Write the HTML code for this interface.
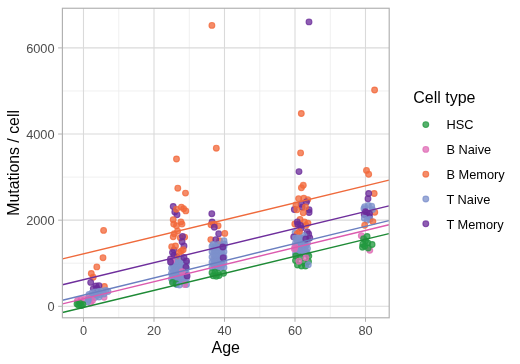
<!DOCTYPE html>
<html><head><meta charset="utf-8"><style>
html,body{margin:0;padding:0;background:#fff;width:520px;height:364px;overflow:hidden}
svg{display:block}
text{font-family:"Liberation Sans",sans-serif}
.ax{font-size:12.8px;fill:#4d4d4d}
.tt{font-size:16px;fill:#000}
.lg{font-size:12.8px;fill:#000}
</style></head><body>
<svg width="520" height="364" viewBox="0 0 520 364">
<rect x="0" y="0" width="520" height="364" fill="#fff"/>
<line x1="118.75" y1="8.3" x2="118.75" y2="317.7" stroke="#ececec" stroke-width="0.8"/>
<line x1="189.25" y1="8.3" x2="189.25" y2="317.7" stroke="#ececec" stroke-width="0.8"/>
<line x1="259.75" y1="8.3" x2="259.75" y2="317.7" stroke="#ececec" stroke-width="0.8"/>
<line x1="330.25" y1="8.3" x2="330.25" y2="317.7" stroke="#ececec" stroke-width="0.8"/>
<line x1="62.5" y1="263.23" x2="389.0" y2="263.23" stroke="#ececec" stroke-width="0.8"/>
<line x1="62.5" y1="177.10" x2="389.0" y2="177.10" stroke="#ececec" stroke-width="0.8"/>
<line x1="62.5" y1="90.97" x2="389.0" y2="90.97" stroke="#ececec" stroke-width="0.8"/>
<line x1="83.50" y1="8.3" x2="83.50" y2="317.7" stroke="#dadada" stroke-width="1.1"/>
<line x1="154.00" y1="8.3" x2="154.00" y2="317.7" stroke="#dadada" stroke-width="1.1"/>
<line x1="224.50" y1="8.3" x2="224.50" y2="317.7" stroke="#dadada" stroke-width="1.1"/>
<line x1="295.00" y1="8.3" x2="295.00" y2="317.7" stroke="#dadada" stroke-width="1.1"/>
<line x1="365.50" y1="8.3" x2="365.50" y2="317.7" stroke="#dadada" stroke-width="1.1"/>
<line x1="62.5" y1="306.30" x2="389.0" y2="306.30" stroke="#dadada" stroke-width="1.1"/>
<line x1="62.5" y1="220.17" x2="389.0" y2="220.17" stroke="#dadada" stroke-width="1.1"/>
<line x1="62.5" y1="134.03" x2="389.0" y2="134.03" stroke="#dadada" stroke-width="1.1"/>
<line x1="62.5" y1="47.90" x2="389.0" y2="47.90" stroke="#dadada" stroke-width="1.1"/>
<circle cx="103.6" cy="230.4" r="2.9" fill="#f2683a" fill-opacity="0.76" stroke="#f2683a" stroke-opacity="0.76" stroke-width="1.1"/>
<circle cx="103.0" cy="257.7" r="2.9" fill="#f2683a" fill-opacity="0.76" stroke="#f2683a" stroke-opacity="0.76" stroke-width="1.1"/>
<circle cx="96.8" cy="266.9" r="2.9" fill="#f2683a" fill-opacity="0.76" stroke="#f2683a" stroke-opacity="0.76" stroke-width="1.1"/>
<circle cx="91.3" cy="273.5" r="2.9" fill="#f2683a" fill-opacity="0.76" stroke="#f2683a" stroke-opacity="0.76" stroke-width="1.1"/>
<circle cx="93.2" cy="277.3" r="2.9" fill="#f2683a" fill-opacity="0.76" stroke="#f2683a" stroke-opacity="0.76" stroke-width="1.1"/>
<circle cx="104.4" cy="286.5" r="2.9" fill="#f2683a" fill-opacity="0.76" stroke="#f2683a" stroke-opacity="0.76" stroke-width="1.1"/>
<circle cx="90.7" cy="282.4" r="2.9" fill="#6a2c9a" fill-opacity="0.76" stroke="#6a2c9a" stroke-opacity="0.76" stroke-width="1.1"/>
<circle cx="96.0" cy="286.0" r="2.9" fill="#6a2c9a" fill-opacity="0.76" stroke="#6a2c9a" stroke-opacity="0.76" stroke-width="1.1"/>
<circle cx="99.0" cy="285.6" r="2.9" fill="#6a2c9a" fill-opacity="0.76" stroke="#6a2c9a" stroke-opacity="0.76" stroke-width="1.1"/>
<circle cx="93.3" cy="288.6" r="2.9" fill="#6a2c9a" fill-opacity="0.76" stroke="#6a2c9a" stroke-opacity="0.76" stroke-width="1.1"/>
<circle cx="97.0" cy="288.5" r="2.9" fill="#6a2c9a" fill-opacity="0.76" stroke="#6a2c9a" stroke-opacity="0.76" stroke-width="1.1"/>
<circle cx="104.1" cy="297.3" r="2.9" fill="#e06cb6" fill-opacity="0.76" stroke="#e06cb6" stroke-opacity="0.76" stroke-width="1.1"/>
<circle cx="91.4" cy="297.5" r="2.9" fill="#e06cb6" fill-opacity="0.76" stroke="#e06cb6" stroke-opacity="0.76" stroke-width="1.1"/>
<circle cx="89.0" cy="294.5" r="2.9" fill="#7d91cc" fill-opacity="0.76" stroke="#7d91cc" stroke-opacity="0.76" stroke-width="1.1"/>
<circle cx="92.0" cy="293.0" r="2.9" fill="#7d91cc" fill-opacity="0.76" stroke="#7d91cc" stroke-opacity="0.76" stroke-width="1.1"/>
<circle cx="95.5" cy="292.0" r="2.9" fill="#7d91cc" fill-opacity="0.76" stroke="#7d91cc" stroke-opacity="0.76" stroke-width="1.1"/>
<circle cx="99.0" cy="291.5" r="2.9" fill="#7d91cc" fill-opacity="0.76" stroke="#7d91cc" stroke-opacity="0.76" stroke-width="1.1"/>
<circle cx="102.5" cy="291.0" r="2.9" fill="#7d91cc" fill-opacity="0.76" stroke="#7d91cc" stroke-opacity="0.76" stroke-width="1.1"/>
<circle cx="106.0" cy="290.5" r="2.9" fill="#7d91cc" fill-opacity="0.76" stroke="#7d91cc" stroke-opacity="0.76" stroke-width="1.1"/>
<circle cx="108.0" cy="291.5" r="2.9" fill="#7d91cc" fill-opacity="0.76" stroke="#7d91cc" stroke-opacity="0.76" stroke-width="1.1"/>
<circle cx="93.0" cy="295.5" r="2.9" fill="#7d91cc" fill-opacity="0.76" stroke="#7d91cc" stroke-opacity="0.76" stroke-width="1.1"/>
<circle cx="97.0" cy="295.5" r="2.9" fill="#7d91cc" fill-opacity="0.76" stroke="#7d91cc" stroke-opacity="0.76" stroke-width="1.1"/>
<circle cx="100.5" cy="294.5" r="2.9" fill="#7d91cc" fill-opacity="0.76" stroke="#7d91cc" stroke-opacity="0.76" stroke-width="1.1"/>
<circle cx="104.0" cy="294.0" r="2.9" fill="#7d91cc" fill-opacity="0.76" stroke="#7d91cc" stroke-opacity="0.76" stroke-width="1.1"/>
<circle cx="95.0" cy="297.5" r="2.9" fill="#7d91cc" fill-opacity="0.76" stroke="#7d91cc" stroke-opacity="0.76" stroke-width="1.1"/>
<circle cx="99.0" cy="297.0" r="2.9" fill="#7d91cc" fill-opacity="0.76" stroke="#7d91cc" stroke-opacity="0.76" stroke-width="1.1"/>
<circle cx="77.5" cy="300.5" r="2.9" fill="#e06cb6" fill-opacity="0.76" stroke="#e06cb6" stroke-opacity="0.76" stroke-width="1.1"/>
<circle cx="81.0" cy="299.5" r="2.9" fill="#e06cb6" fill-opacity="0.76" stroke="#e06cb6" stroke-opacity="0.76" stroke-width="1.1"/>
<circle cx="84.5" cy="299.5" r="2.9" fill="#e06cb6" fill-opacity="0.76" stroke="#e06cb6" stroke-opacity="0.76" stroke-width="1.1"/>
<circle cx="88.0" cy="298.5" r="2.9" fill="#e06cb6" fill-opacity="0.76" stroke="#e06cb6" stroke-opacity="0.76" stroke-width="1.1"/>
<circle cx="92.5" cy="300.5" r="2.9" fill="#e06cb6" fill-opacity="0.76" stroke="#e06cb6" stroke-opacity="0.76" stroke-width="1.1"/>
<circle cx="90.5" cy="303.0" r="2.9" fill="#e06cb6" fill-opacity="0.76" stroke="#e06cb6" stroke-opacity="0.76" stroke-width="1.1"/>
<circle cx="87.7" cy="301.7" r="2.9" fill="#7d91cc" fill-opacity="0.76" stroke="#7d91cc" stroke-opacity="0.76" stroke-width="1.1"/>
<circle cx="88.5" cy="299.8" r="2.9" fill="#7d91cc" fill-opacity="0.76" stroke="#7d91cc" stroke-opacity="0.76" stroke-width="1.1"/>
<circle cx="77.0" cy="304.0" r="2.9" fill="#22983f" fill-opacity="0.76" stroke="#22983f" stroke-opacity="0.76" stroke-width="1.1"/>
<circle cx="80.0" cy="303.5" r="2.9" fill="#22983f" fill-opacity="0.76" stroke="#22983f" stroke-opacity="0.76" stroke-width="1.1"/>
<circle cx="83.0" cy="304.5" r="2.9" fill="#22983f" fill-opacity="0.76" stroke="#22983f" stroke-opacity="0.76" stroke-width="1.1"/>
<circle cx="78.5" cy="305.0" r="2.9" fill="#22983f" fill-opacity="0.76" stroke="#22983f" stroke-opacity="0.76" stroke-width="1.1"/>
<circle cx="81.5" cy="305.5" r="2.9" fill="#22983f" fill-opacity="0.76" stroke="#22983f" stroke-opacity="0.76" stroke-width="1.1"/>
<circle cx="176.5" cy="159.0" r="2.9" fill="#f2683a" fill-opacity="0.76" stroke="#f2683a" stroke-opacity="0.76" stroke-width="1.1"/>
<circle cx="177.8" cy="188.2" r="2.9" fill="#f2683a" fill-opacity="0.76" stroke="#f2683a" stroke-opacity="0.76" stroke-width="1.1"/>
<circle cx="185.5" cy="193.1" r="2.9" fill="#f2683a" fill-opacity="0.76" stroke="#f2683a" stroke-opacity="0.76" stroke-width="1.1"/>
<circle cx="173.2" cy="206.5" r="2.9" fill="#6a2c9a" fill-opacity="0.76" stroke="#6a2c9a" stroke-opacity="0.76" stroke-width="1.1"/>
<circle cx="174.8" cy="212.0" r="2.9" fill="#6a2c9a" fill-opacity="0.76" stroke="#6a2c9a" stroke-opacity="0.76" stroke-width="1.1"/>
<circle cx="177.0" cy="214.8" r="2.9" fill="#6a2c9a" fill-opacity="0.76" stroke="#6a2c9a" stroke-opacity="0.76" stroke-width="1.1"/>
<circle cx="176.5" cy="209.3" r="2.9" fill="#f2683a" fill-opacity="0.76" stroke="#f2683a" stroke-opacity="0.76" stroke-width="1.1"/>
<circle cx="181.4" cy="207.1" r="2.9" fill="#f2683a" fill-opacity="0.76" stroke="#f2683a" stroke-opacity="0.76" stroke-width="1.1"/>
<circle cx="183.6" cy="208.7" r="2.9" fill="#f2683a" fill-opacity="0.76" stroke="#f2683a" stroke-opacity="0.76" stroke-width="1.1"/>
<circle cx="185.8" cy="210.9" r="2.9" fill="#f2683a" fill-opacity="0.76" stroke="#f2683a" stroke-opacity="0.76" stroke-width="1.1"/>
<circle cx="173.2" cy="219.7" r="2.9" fill="#f2683a" fill-opacity="0.76" stroke="#f2683a" stroke-opacity="0.76" stroke-width="1.1"/>
<circle cx="173.7" cy="224.1" r="2.9" fill="#f2683a" fill-opacity="0.76" stroke="#f2683a" stroke-opacity="0.76" stroke-width="1.1"/>
<circle cx="180.9" cy="221.9" r="2.9" fill="#f2683a" fill-opacity="0.76" stroke="#f2683a" stroke-opacity="0.76" stroke-width="1.1"/>
<circle cx="176.5" cy="225.8" r="2.9" fill="#f2683a" fill-opacity="0.76" stroke="#f2683a" stroke-opacity="0.76" stroke-width="1.1"/>
<circle cx="182.0" cy="224.1" r="2.9" fill="#f2683a" fill-opacity="0.76" stroke="#f2683a" stroke-opacity="0.76" stroke-width="1.1"/>
<circle cx="174.3" cy="233.8" r="2.9" fill="#f2683a" fill-opacity="0.76" stroke="#f2683a" stroke-opacity="0.76" stroke-width="1.1"/>
<circle cx="177.6" cy="231.1" r="2.9" fill="#f2683a" fill-opacity="0.76" stroke="#f2683a" stroke-opacity="0.76" stroke-width="1.1"/>
<circle cx="180.3" cy="237.7" r="2.9" fill="#f2683a" fill-opacity="0.76" stroke="#f2683a" stroke-opacity="0.76" stroke-width="1.1"/>
<circle cx="184.7" cy="237.1" r="2.9" fill="#f2683a" fill-opacity="0.76" stroke="#f2683a" stroke-opacity="0.76" stroke-width="1.1"/>
<circle cx="173.2" cy="236.8" r="2.9" fill="#f2683a" fill-opacity="0.76" stroke="#f2683a" stroke-opacity="0.76" stroke-width="1.1"/>
<circle cx="182.5" cy="236.4" r="2.9" fill="#6a2c9a" fill-opacity="0.76" stroke="#6a2c9a" stroke-opacity="0.76" stroke-width="1.1"/>
<circle cx="182.1" cy="241.8" r="2.9" fill="#6a2c9a" fill-opacity="0.76" stroke="#6a2c9a" stroke-opacity="0.76" stroke-width="1.1"/>
<circle cx="184.0" cy="246.0" r="2.9" fill="#6a2c9a" fill-opacity="0.76" stroke="#6a2c9a" stroke-opacity="0.76" stroke-width="1.1"/>
<circle cx="174.0" cy="250.0" r="2.9" fill="#6a2c9a" fill-opacity="0.76" stroke="#6a2c9a" stroke-opacity="0.76" stroke-width="1.1"/>
<circle cx="171.7" cy="246.8" r="2.9" fill="#f2683a" fill-opacity="0.76" stroke="#f2683a" stroke-opacity="0.76" stroke-width="1.1"/>
<circle cx="175.5" cy="246.0" r="2.9" fill="#f2683a" fill-opacity="0.76" stroke="#f2683a" stroke-opacity="0.76" stroke-width="1.1"/>
<circle cx="172.5" cy="252.5" r="2.9" fill="#6a2c9a" fill-opacity="0.76" stroke="#6a2c9a" stroke-opacity="0.76" stroke-width="1.1"/>
<circle cx="174.0" cy="255.5" r="2.9" fill="#6a2c9a" fill-opacity="0.76" stroke="#6a2c9a" stroke-opacity="0.76" stroke-width="1.1"/>
<circle cx="176.7" cy="256.5" r="2.9" fill="#6a2c9a" fill-opacity="0.76" stroke="#6a2c9a" stroke-opacity="0.76" stroke-width="1.1"/>
<circle cx="170.5" cy="259.0" r="2.9" fill="#6a2c9a" fill-opacity="0.76" stroke="#6a2c9a" stroke-opacity="0.76" stroke-width="1.1"/>
<circle cx="173.5" cy="262.0" r="2.9" fill="#6a2c9a" fill-opacity="0.76" stroke="#6a2c9a" stroke-opacity="0.76" stroke-width="1.1"/>
<circle cx="181.3" cy="251.0" r="2.9" fill="#f2683a" fill-opacity="0.76" stroke="#f2683a" stroke-opacity="0.76" stroke-width="1.1"/>
<circle cx="179.4" cy="252.5" r="2.9" fill="#f2683a" fill-opacity="0.76" stroke="#f2683a" stroke-opacity="0.76" stroke-width="1.1"/>
<circle cx="183.2" cy="249.8" r="2.9" fill="#f2683a" fill-opacity="0.76" stroke="#f2683a" stroke-opacity="0.76" stroke-width="1.1"/>
<circle cx="177.8" cy="258.5" r="2.9" fill="#f2683a" fill-opacity="0.76" stroke="#f2683a" stroke-opacity="0.76" stroke-width="1.1"/>
<circle cx="171.5" cy="263.0" r="2.9" fill="#7d91cc" fill-opacity="0.76" stroke="#7d91cc" stroke-opacity="0.76" stroke-width="1.1"/>
<circle cx="174.5" cy="263.0" r="2.9" fill="#7d91cc" fill-opacity="0.76" stroke="#7d91cc" stroke-opacity="0.76" stroke-width="1.1"/>
<circle cx="177.5" cy="263.0" r="2.9" fill="#7d91cc" fill-opacity="0.76" stroke="#7d91cc" stroke-opacity="0.76" stroke-width="1.1"/>
<circle cx="180.5" cy="263.0" r="2.9" fill="#7d91cc" fill-opacity="0.76" stroke="#7d91cc" stroke-opacity="0.76" stroke-width="1.1"/>
<circle cx="183.5" cy="263.0" r="2.9" fill="#7d91cc" fill-opacity="0.76" stroke="#7d91cc" stroke-opacity="0.76" stroke-width="1.1"/>
<circle cx="186.5" cy="263.0" r="2.9" fill="#7d91cc" fill-opacity="0.76" stroke="#7d91cc" stroke-opacity="0.76" stroke-width="1.1"/>
<circle cx="173.0" cy="265.6" r="2.9" fill="#7d91cc" fill-opacity="0.76" stroke="#7d91cc" stroke-opacity="0.76" stroke-width="1.1"/>
<circle cx="176.0" cy="265.6" r="2.9" fill="#7d91cc" fill-opacity="0.76" stroke="#7d91cc" stroke-opacity="0.76" stroke-width="1.1"/>
<circle cx="179.0" cy="265.6" r="2.9" fill="#7d91cc" fill-opacity="0.76" stroke="#7d91cc" stroke-opacity="0.76" stroke-width="1.1"/>
<circle cx="182.0" cy="265.6" r="2.9" fill="#7d91cc" fill-opacity="0.76" stroke="#7d91cc" stroke-opacity="0.76" stroke-width="1.1"/>
<circle cx="185.0" cy="265.6" r="2.9" fill="#7d91cc" fill-opacity="0.76" stroke="#7d91cc" stroke-opacity="0.76" stroke-width="1.1"/>
<circle cx="171.5" cy="268.2" r="2.9" fill="#7d91cc" fill-opacity="0.76" stroke="#7d91cc" stroke-opacity="0.76" stroke-width="1.1"/>
<circle cx="174.5" cy="268.2" r="2.9" fill="#7d91cc" fill-opacity="0.76" stroke="#7d91cc" stroke-opacity="0.76" stroke-width="1.1"/>
<circle cx="177.5" cy="268.2" r="2.9" fill="#7d91cc" fill-opacity="0.76" stroke="#7d91cc" stroke-opacity="0.76" stroke-width="1.1"/>
<circle cx="180.5" cy="268.2" r="2.9" fill="#7d91cc" fill-opacity="0.76" stroke="#7d91cc" stroke-opacity="0.76" stroke-width="1.1"/>
<circle cx="183.5" cy="268.2" r="2.9" fill="#7d91cc" fill-opacity="0.76" stroke="#7d91cc" stroke-opacity="0.76" stroke-width="1.1"/>
<circle cx="186.5" cy="268.2" r="2.9" fill="#7d91cc" fill-opacity="0.76" stroke="#7d91cc" stroke-opacity="0.76" stroke-width="1.1"/>
<circle cx="173.0" cy="270.8" r="2.9" fill="#7d91cc" fill-opacity="0.76" stroke="#7d91cc" stroke-opacity="0.76" stroke-width="1.1"/>
<circle cx="176.0" cy="270.8" r="2.9" fill="#7d91cc" fill-opacity="0.76" stroke="#7d91cc" stroke-opacity="0.76" stroke-width="1.1"/>
<circle cx="179.0" cy="270.8" r="2.9" fill="#7d91cc" fill-opacity="0.76" stroke="#7d91cc" stroke-opacity="0.76" stroke-width="1.1"/>
<circle cx="182.0" cy="270.8" r="2.9" fill="#7d91cc" fill-opacity="0.76" stroke="#7d91cc" stroke-opacity="0.76" stroke-width="1.1"/>
<circle cx="185.0" cy="270.8" r="2.9" fill="#7d91cc" fill-opacity="0.76" stroke="#7d91cc" stroke-opacity="0.76" stroke-width="1.1"/>
<circle cx="171.5" cy="273.4" r="2.9" fill="#7d91cc" fill-opacity="0.76" stroke="#7d91cc" stroke-opacity="0.76" stroke-width="1.1"/>
<circle cx="174.5" cy="273.4" r="2.9" fill="#7d91cc" fill-opacity="0.76" stroke="#7d91cc" stroke-opacity="0.76" stroke-width="1.1"/>
<circle cx="177.5" cy="273.4" r="2.9" fill="#7d91cc" fill-opacity="0.76" stroke="#7d91cc" stroke-opacity="0.76" stroke-width="1.1"/>
<circle cx="180.5" cy="273.4" r="2.9" fill="#7d91cc" fill-opacity="0.76" stroke="#7d91cc" stroke-opacity="0.76" stroke-width="1.1"/>
<circle cx="183.5" cy="273.4" r="2.9" fill="#7d91cc" fill-opacity="0.76" stroke="#7d91cc" stroke-opacity="0.76" stroke-width="1.1"/>
<circle cx="186.5" cy="273.4" r="2.9" fill="#7d91cc" fill-opacity="0.76" stroke="#7d91cc" stroke-opacity="0.76" stroke-width="1.1"/>
<circle cx="173.0" cy="276.1" r="2.9" fill="#7d91cc" fill-opacity="0.76" stroke="#7d91cc" stroke-opacity="0.76" stroke-width="1.1"/>
<circle cx="176.0" cy="276.1" r="2.9" fill="#7d91cc" fill-opacity="0.76" stroke="#7d91cc" stroke-opacity="0.76" stroke-width="1.1"/>
<circle cx="179.0" cy="276.1" r="2.9" fill="#7d91cc" fill-opacity="0.76" stroke="#7d91cc" stroke-opacity="0.76" stroke-width="1.1"/>
<circle cx="182.0" cy="276.1" r="2.9" fill="#7d91cc" fill-opacity="0.76" stroke="#7d91cc" stroke-opacity="0.76" stroke-width="1.1"/>
<circle cx="185.0" cy="276.1" r="2.9" fill="#7d91cc" fill-opacity="0.76" stroke="#7d91cc" stroke-opacity="0.76" stroke-width="1.1"/>
<circle cx="171.5" cy="278.7" r="2.9" fill="#7d91cc" fill-opacity="0.76" stroke="#7d91cc" stroke-opacity="0.76" stroke-width="1.1"/>
<circle cx="174.5" cy="278.7" r="2.9" fill="#7d91cc" fill-opacity="0.76" stroke="#7d91cc" stroke-opacity="0.76" stroke-width="1.1"/>
<circle cx="177.5" cy="278.7" r="2.9" fill="#7d91cc" fill-opacity="0.76" stroke="#7d91cc" stroke-opacity="0.76" stroke-width="1.1"/>
<circle cx="180.5" cy="278.7" r="2.9" fill="#7d91cc" fill-opacity="0.76" stroke="#7d91cc" stroke-opacity="0.76" stroke-width="1.1"/>
<circle cx="183.5" cy="278.7" r="2.9" fill="#7d91cc" fill-opacity="0.76" stroke="#7d91cc" stroke-opacity="0.76" stroke-width="1.1"/>
<circle cx="186.5" cy="278.7" r="2.9" fill="#7d91cc" fill-opacity="0.76" stroke="#7d91cc" stroke-opacity="0.76" stroke-width="1.1"/>
<circle cx="173.0" cy="281.3" r="2.9" fill="#7d91cc" fill-opacity="0.76" stroke="#7d91cc" stroke-opacity="0.76" stroke-width="1.1"/>
<circle cx="176.0" cy="281.3" r="2.9" fill="#7d91cc" fill-opacity="0.76" stroke="#7d91cc" stroke-opacity="0.76" stroke-width="1.1"/>
<circle cx="179.0" cy="281.3" r="2.9" fill="#7d91cc" fill-opacity="0.76" stroke="#7d91cc" stroke-opacity="0.76" stroke-width="1.1"/>
<circle cx="182.0" cy="281.3" r="2.9" fill="#7d91cc" fill-opacity="0.76" stroke="#7d91cc" stroke-opacity="0.76" stroke-width="1.1"/>
<circle cx="185.0" cy="281.3" r="2.9" fill="#7d91cc" fill-opacity="0.76" stroke="#7d91cc" stroke-opacity="0.76" stroke-width="1.1"/>
<circle cx="176.6" cy="284.6" r="2.9" fill="#7d91cc" fill-opacity="0.76" stroke="#7d91cc" stroke-opacity="0.76" stroke-width="1.1"/>
<circle cx="186.5" cy="284.6" r="2.9" fill="#7d91cc" fill-opacity="0.76" stroke="#7d91cc" stroke-opacity="0.76" stroke-width="1.1"/>
<circle cx="175.5" cy="261.4" r="2.9" fill="#7d91cc" fill-opacity="0.76" stroke="#7d91cc" stroke-opacity="0.76" stroke-width="1.1"/>
<circle cx="181.7" cy="259.0" r="2.9" fill="#7d91cc" fill-opacity="0.76" stroke="#7d91cc" stroke-opacity="0.76" stroke-width="1.1"/>
<circle cx="171.7" cy="260.6" r="2.9" fill="#e06cb6" fill-opacity="0.76" stroke="#e06cb6" stroke-opacity="0.76" stroke-width="1.1"/>
<circle cx="170.5" cy="262.0" r="2.9" fill="#6a2c9a" fill-opacity="0.76" stroke="#6a2c9a" stroke-opacity="0.76" stroke-width="1.1"/>
<circle cx="184.0" cy="257.5" r="2.9" fill="#6a2c9a" fill-opacity="0.76" stroke="#6a2c9a" stroke-opacity="0.76" stroke-width="1.1"/>
<circle cx="186.5" cy="261.0" r="2.9" fill="#6a2c9a" fill-opacity="0.76" stroke="#6a2c9a" stroke-opacity="0.76" stroke-width="1.1"/>
<circle cx="185.9" cy="267.2" r="2.9" fill="#6a2c9a" fill-opacity="0.76" stroke="#6a2c9a" stroke-opacity="0.76" stroke-width="1.1"/>
<circle cx="187.1" cy="275.9" r="2.9" fill="#6a2c9a" fill-opacity="0.76" stroke="#6a2c9a" stroke-opacity="0.76" stroke-width="1.1"/>
<circle cx="172.5" cy="282.5" r="2.9" fill="#22983f" fill-opacity="0.76" stroke="#22983f" stroke-opacity="0.76" stroke-width="1.1"/>
<circle cx="176.0" cy="283.8" r="2.9" fill="#22983f" fill-opacity="0.76" stroke="#22983f" stroke-opacity="0.76" stroke-width="1.1"/>
<circle cx="182.2" cy="271.6" r="2.9" fill="#e06cb6" fill-opacity="0.76" stroke="#e06cb6" stroke-opacity="0.76" stroke-width="1.1"/>
<circle cx="184.6" cy="284.6" r="2.9" fill="#e06cb6" fill-opacity="0.76" stroke="#e06cb6" stroke-opacity="0.76" stroke-width="1.1"/>
<circle cx="179.5" cy="285.0" r="2.9" fill="#7d91cc" fill-opacity="0.76" stroke="#7d91cc" stroke-opacity="0.76" stroke-width="1.1"/>
<circle cx="211.9" cy="25.4" r="2.9" fill="#f2683a" fill-opacity="0.76" stroke="#f2683a" stroke-opacity="0.76" stroke-width="1.1"/>
<circle cx="216.3" cy="148.2" r="2.9" fill="#f2683a" fill-opacity="0.76" stroke="#f2683a" stroke-opacity="0.76" stroke-width="1.1"/>
<circle cx="211.8" cy="213.7" r="2.9" fill="#6a2c9a" fill-opacity="0.76" stroke="#6a2c9a" stroke-opacity="0.76" stroke-width="1.1"/>
<circle cx="212.1" cy="222.0" r="2.9" fill="#6a2c9a" fill-opacity="0.76" stroke="#6a2c9a" stroke-opacity="0.76" stroke-width="1.1"/>
<circle cx="211.0" cy="224.7" r="2.9" fill="#f2683a" fill-opacity="0.76" stroke="#f2683a" stroke-opacity="0.76" stroke-width="1.1"/>
<circle cx="214.3" cy="224.2" r="2.9" fill="#f2683a" fill-opacity="0.76" stroke="#f2683a" stroke-opacity="0.76" stroke-width="1.1"/>
<circle cx="218.1" cy="225.8" r="2.9" fill="#f2683a" fill-opacity="0.76" stroke="#f2683a" stroke-opacity="0.76" stroke-width="1.1"/>
<circle cx="214.3" cy="227.2" r="2.9" fill="#6a2c9a" fill-opacity="0.76" stroke="#6a2c9a" stroke-opacity="0.76" stroke-width="1.1"/>
<circle cx="218.7" cy="233.8" r="2.9" fill="#6a2c9a" fill-opacity="0.76" stroke="#6a2c9a" stroke-opacity="0.76" stroke-width="1.1"/>
<circle cx="224.8" cy="233.4" r="2.9" fill="#f2683a" fill-opacity="0.76" stroke="#f2683a" stroke-opacity="0.76" stroke-width="1.1"/>
<circle cx="212.0" cy="246.5" r="2.9" fill="#7d91cc" fill-opacity="0.76" stroke="#7d91cc" stroke-opacity="0.76" stroke-width="1.1"/>
<circle cx="215.0" cy="246.5" r="2.9" fill="#7d91cc" fill-opacity="0.76" stroke="#7d91cc" stroke-opacity="0.76" stroke-width="1.1"/>
<circle cx="218.0" cy="246.5" r="2.9" fill="#7d91cc" fill-opacity="0.76" stroke="#7d91cc" stroke-opacity="0.76" stroke-width="1.1"/>
<circle cx="221.0" cy="246.5" r="2.9" fill="#7d91cc" fill-opacity="0.76" stroke="#7d91cc" stroke-opacity="0.76" stroke-width="1.1"/>
<circle cx="224.0" cy="246.5" r="2.9" fill="#7d91cc" fill-opacity="0.76" stroke="#7d91cc" stroke-opacity="0.76" stroke-width="1.1"/>
<circle cx="213.5" cy="249.1" r="2.9" fill="#7d91cc" fill-opacity="0.76" stroke="#7d91cc" stroke-opacity="0.76" stroke-width="1.1"/>
<circle cx="216.5" cy="249.1" r="2.9" fill="#7d91cc" fill-opacity="0.76" stroke="#7d91cc" stroke-opacity="0.76" stroke-width="1.1"/>
<circle cx="219.5" cy="249.1" r="2.9" fill="#7d91cc" fill-opacity="0.76" stroke="#7d91cc" stroke-opacity="0.76" stroke-width="1.1"/>
<circle cx="222.5" cy="249.1" r="2.9" fill="#7d91cc" fill-opacity="0.76" stroke="#7d91cc" stroke-opacity="0.76" stroke-width="1.1"/>
<circle cx="212.0" cy="251.7" r="2.9" fill="#7d91cc" fill-opacity="0.76" stroke="#7d91cc" stroke-opacity="0.76" stroke-width="1.1"/>
<circle cx="215.0" cy="251.7" r="2.9" fill="#7d91cc" fill-opacity="0.76" stroke="#7d91cc" stroke-opacity="0.76" stroke-width="1.1"/>
<circle cx="218.0" cy="251.7" r="2.9" fill="#7d91cc" fill-opacity="0.76" stroke="#7d91cc" stroke-opacity="0.76" stroke-width="1.1"/>
<circle cx="221.0" cy="251.7" r="2.9" fill="#7d91cc" fill-opacity="0.76" stroke="#7d91cc" stroke-opacity="0.76" stroke-width="1.1"/>
<circle cx="224.0" cy="251.7" r="2.9" fill="#7d91cc" fill-opacity="0.76" stroke="#7d91cc" stroke-opacity="0.76" stroke-width="1.1"/>
<circle cx="213.5" cy="254.3" r="2.9" fill="#7d91cc" fill-opacity="0.76" stroke="#7d91cc" stroke-opacity="0.76" stroke-width="1.1"/>
<circle cx="216.5" cy="254.3" r="2.9" fill="#7d91cc" fill-opacity="0.76" stroke="#7d91cc" stroke-opacity="0.76" stroke-width="1.1"/>
<circle cx="219.5" cy="254.3" r="2.9" fill="#7d91cc" fill-opacity="0.76" stroke="#7d91cc" stroke-opacity="0.76" stroke-width="1.1"/>
<circle cx="222.5" cy="254.3" r="2.9" fill="#7d91cc" fill-opacity="0.76" stroke="#7d91cc" stroke-opacity="0.76" stroke-width="1.1"/>
<circle cx="212.0" cy="256.9" r="2.9" fill="#7d91cc" fill-opacity="0.76" stroke="#7d91cc" stroke-opacity="0.76" stroke-width="1.1"/>
<circle cx="215.0" cy="256.9" r="2.9" fill="#7d91cc" fill-opacity="0.76" stroke="#7d91cc" stroke-opacity="0.76" stroke-width="1.1"/>
<circle cx="218.0" cy="256.9" r="2.9" fill="#7d91cc" fill-opacity="0.76" stroke="#7d91cc" stroke-opacity="0.76" stroke-width="1.1"/>
<circle cx="221.0" cy="256.9" r="2.9" fill="#7d91cc" fill-opacity="0.76" stroke="#7d91cc" stroke-opacity="0.76" stroke-width="1.1"/>
<circle cx="224.0" cy="256.9" r="2.9" fill="#7d91cc" fill-opacity="0.76" stroke="#7d91cc" stroke-opacity="0.76" stroke-width="1.1"/>
<circle cx="213.5" cy="259.6" r="2.9" fill="#7d91cc" fill-opacity="0.76" stroke="#7d91cc" stroke-opacity="0.76" stroke-width="1.1"/>
<circle cx="216.5" cy="259.6" r="2.9" fill="#7d91cc" fill-opacity="0.76" stroke="#7d91cc" stroke-opacity="0.76" stroke-width="1.1"/>
<circle cx="219.5" cy="259.6" r="2.9" fill="#7d91cc" fill-opacity="0.76" stroke="#7d91cc" stroke-opacity="0.76" stroke-width="1.1"/>
<circle cx="222.5" cy="259.6" r="2.9" fill="#7d91cc" fill-opacity="0.76" stroke="#7d91cc" stroke-opacity="0.76" stroke-width="1.1"/>
<circle cx="212.0" cy="262.2" r="2.9" fill="#7d91cc" fill-opacity="0.76" stroke="#7d91cc" stroke-opacity="0.76" stroke-width="1.1"/>
<circle cx="215.0" cy="262.2" r="2.9" fill="#7d91cc" fill-opacity="0.76" stroke="#7d91cc" stroke-opacity="0.76" stroke-width="1.1"/>
<circle cx="218.0" cy="262.2" r="2.9" fill="#7d91cc" fill-opacity="0.76" stroke="#7d91cc" stroke-opacity="0.76" stroke-width="1.1"/>
<circle cx="221.0" cy="262.2" r="2.9" fill="#7d91cc" fill-opacity="0.76" stroke="#7d91cc" stroke-opacity="0.76" stroke-width="1.1"/>
<circle cx="224.0" cy="262.2" r="2.9" fill="#7d91cc" fill-opacity="0.76" stroke="#7d91cc" stroke-opacity="0.76" stroke-width="1.1"/>
<circle cx="213.5" cy="264.8" r="2.9" fill="#7d91cc" fill-opacity="0.76" stroke="#7d91cc" stroke-opacity="0.76" stroke-width="1.1"/>
<circle cx="216.5" cy="264.8" r="2.9" fill="#7d91cc" fill-opacity="0.76" stroke="#7d91cc" stroke-opacity="0.76" stroke-width="1.1"/>
<circle cx="219.5" cy="264.8" r="2.9" fill="#7d91cc" fill-opacity="0.76" stroke="#7d91cc" stroke-opacity="0.76" stroke-width="1.1"/>
<circle cx="222.5" cy="264.8" r="2.9" fill="#7d91cc" fill-opacity="0.76" stroke="#7d91cc" stroke-opacity="0.76" stroke-width="1.1"/>
<circle cx="212.0" cy="267.4" r="2.9" fill="#7d91cc" fill-opacity="0.76" stroke="#7d91cc" stroke-opacity="0.76" stroke-width="1.1"/>
<circle cx="215.0" cy="267.4" r="2.9" fill="#7d91cc" fill-opacity="0.76" stroke="#7d91cc" stroke-opacity="0.76" stroke-width="1.1"/>
<circle cx="218.0" cy="267.4" r="2.9" fill="#7d91cc" fill-opacity="0.76" stroke="#7d91cc" stroke-opacity="0.76" stroke-width="1.1"/>
<circle cx="221.0" cy="267.4" r="2.9" fill="#7d91cc" fill-opacity="0.76" stroke="#7d91cc" stroke-opacity="0.76" stroke-width="1.1"/>
<circle cx="224.0" cy="267.4" r="2.9" fill="#7d91cc" fill-opacity="0.76" stroke="#7d91cc" stroke-opacity="0.76" stroke-width="1.1"/>
<circle cx="210.8" cy="239.6" r="2.9" fill="#f2683a" fill-opacity="0.76" stroke="#f2683a" stroke-opacity="0.76" stroke-width="1.1"/>
<circle cx="219.5" cy="240.8" r="2.9" fill="#f2683a" fill-opacity="0.76" stroke="#f2683a" stroke-opacity="0.76" stroke-width="1.1"/>
<circle cx="215.8" cy="239.6" r="2.9" fill="#6a2c9a" fill-opacity="0.76" stroke="#6a2c9a" stroke-opacity="0.76" stroke-width="1.1"/>
<circle cx="224.0" cy="240.8" r="2.9" fill="#7d91cc" fill-opacity="0.76" stroke="#7d91cc" stroke-opacity="0.76" stroke-width="1.1"/>
<circle cx="224.5" cy="244.0" r="2.9" fill="#7d91cc" fill-opacity="0.76" stroke="#7d91cc" stroke-opacity="0.76" stroke-width="1.1"/>
<circle cx="213.0" cy="244.5" r="2.9" fill="#7d91cc" fill-opacity="0.76" stroke="#7d91cc" stroke-opacity="0.76" stroke-width="1.1"/>
<circle cx="218.5" cy="244.5" r="2.9" fill="#7d91cc" fill-opacity="0.76" stroke="#7d91cc" stroke-opacity="0.76" stroke-width="1.1"/>
<circle cx="222.8" cy="247.0" r="2.9" fill="#6a2c9a" fill-opacity="0.76" stroke="#6a2c9a" stroke-opacity="0.76" stroke-width="1.1"/>
<circle cx="223.2" cy="257.8" r="2.9" fill="#6a2c9a" fill-opacity="0.76" stroke="#6a2c9a" stroke-opacity="0.76" stroke-width="1.1"/>
<circle cx="212.0" cy="272.8" r="2.9" fill="#22983f" fill-opacity="0.76" stroke="#22983f" stroke-opacity="0.76" stroke-width="1.1"/>
<circle cx="215.0" cy="272.3" r="2.9" fill="#22983f" fill-opacity="0.76" stroke="#22983f" stroke-opacity="0.76" stroke-width="1.1"/>
<circle cx="218.0" cy="273.2" r="2.9" fill="#22983f" fill-opacity="0.76" stroke="#22983f" stroke-opacity="0.76" stroke-width="1.1"/>
<circle cx="213.2" cy="275.8" r="2.9" fill="#22983f" fill-opacity="0.76" stroke="#22983f" stroke-opacity="0.76" stroke-width="1.1"/>
<circle cx="216.3" cy="276.2" r="2.9" fill="#22983f" fill-opacity="0.76" stroke="#22983f" stroke-opacity="0.76" stroke-width="1.1"/>
<circle cx="219.0" cy="275.5" r="2.9" fill="#22983f" fill-opacity="0.76" stroke="#22983f" stroke-opacity="0.76" stroke-width="1.1"/>
<circle cx="223.6" cy="273.3" r="2.9" fill="#22983f" fill-opacity="0.76" stroke="#22983f" stroke-opacity="0.76" stroke-width="1.1"/>
<circle cx="301.3" cy="113.5" r="2.9" fill="#f2683a" fill-opacity="0.76" stroke="#f2683a" stroke-opacity="0.76" stroke-width="1.1"/>
<circle cx="300.6" cy="152.9" r="2.9" fill="#f2683a" fill-opacity="0.76" stroke="#f2683a" stroke-opacity="0.76" stroke-width="1.1"/>
<circle cx="309.0" cy="21.9" r="2.9" fill="#6a2c9a" fill-opacity="0.76" stroke="#6a2c9a" stroke-opacity="0.76" stroke-width="1.1"/>
<circle cx="299.0" cy="171.6" r="2.9" fill="#6a2c9a" fill-opacity="0.76" stroke="#6a2c9a" stroke-opacity="0.76" stroke-width="1.1"/>
<circle cx="303.3" cy="185.3" r="2.9" fill="#f2683a" fill-opacity="0.76" stroke="#f2683a" stroke-opacity="0.76" stroke-width="1.1"/>
<circle cx="301.4" cy="187.8" r="2.9" fill="#f2683a" fill-opacity="0.76" stroke="#f2683a" stroke-opacity="0.76" stroke-width="1.1"/>
<circle cx="298.6" cy="198.6" r="2.9" fill="#f2683a" fill-opacity="0.76" stroke="#f2683a" stroke-opacity="0.76" stroke-width="1.1"/>
<circle cx="303.8" cy="198.3" r="2.9" fill="#f2683a" fill-opacity="0.76" stroke="#f2683a" stroke-opacity="0.76" stroke-width="1.1"/>
<circle cx="307.8" cy="199.6" r="2.9" fill="#f2683a" fill-opacity="0.76" stroke="#f2683a" stroke-opacity="0.76" stroke-width="1.1"/>
<circle cx="306.5" cy="201.9" r="2.9" fill="#6a2c9a" fill-opacity="0.76" stroke="#6a2c9a" stroke-opacity="0.76" stroke-width="1.1"/>
<circle cx="301.2" cy="204.2" r="2.9" fill="#6a2c9a" fill-opacity="0.76" stroke="#6a2c9a" stroke-opacity="0.76" stroke-width="1.1"/>
<circle cx="302.2" cy="207.2" r="2.9" fill="#6a2c9a" fill-opacity="0.76" stroke="#6a2c9a" stroke-opacity="0.76" stroke-width="1.1"/>
<circle cx="294.3" cy="209.5" r="2.9" fill="#6a2c9a" fill-opacity="0.76" stroke="#6a2c9a" stroke-opacity="0.76" stroke-width="1.1"/>
<circle cx="309.1" cy="209.8" r="2.9" fill="#6a2c9a" fill-opacity="0.76" stroke="#6a2c9a" stroke-opacity="0.76" stroke-width="1.1"/>
<circle cx="309.1" cy="212.5" r="2.9" fill="#6a2c9a" fill-opacity="0.76" stroke="#6a2c9a" stroke-opacity="0.76" stroke-width="1.1"/>
<circle cx="295.9" cy="204.9" r="2.9" fill="#f2683a" fill-opacity="0.76" stroke="#f2683a" stroke-opacity="0.76" stroke-width="1.1"/>
<circle cx="305.5" cy="206.9" r="2.9" fill="#f2683a" fill-opacity="0.76" stroke="#f2683a" stroke-opacity="0.76" stroke-width="1.1"/>
<circle cx="296.9" cy="209.8" r="2.9" fill="#f2683a" fill-opacity="0.76" stroke="#f2683a" stroke-opacity="0.76" stroke-width="1.1"/>
<circle cx="303.2" cy="212.8" r="2.9" fill="#f2683a" fill-opacity="0.76" stroke="#f2683a" stroke-opacity="0.76" stroke-width="1.1"/>
<circle cx="300.1" cy="219.4" r="2.9" fill="#f2683a" fill-opacity="0.76" stroke="#f2683a" stroke-opacity="0.76" stroke-width="1.1"/>
<circle cx="294.8" cy="224.0" r="2.9" fill="#f2683a" fill-opacity="0.76" stroke="#f2683a" stroke-opacity="0.76" stroke-width="1.1"/>
<circle cx="304.4" cy="221.9" r="2.9" fill="#f2683a" fill-opacity="0.76" stroke="#f2683a" stroke-opacity="0.76" stroke-width="1.1"/>
<circle cx="308.0" cy="223.3" r="2.9" fill="#f2683a" fill-opacity="0.76" stroke="#f2683a" stroke-opacity="0.76" stroke-width="1.1"/>
<circle cx="305.9" cy="225.4" r="2.9" fill="#f2683a" fill-opacity="0.76" stroke="#f2683a" stroke-opacity="0.76" stroke-width="1.1"/>
<circle cx="297.3" cy="221.9" r="2.9" fill="#6a2c9a" fill-opacity="0.76" stroke="#6a2c9a" stroke-opacity="0.76" stroke-width="1.1"/>
<circle cx="297.8" cy="224.5" r="2.9" fill="#6a2c9a" fill-opacity="0.76" stroke="#6a2c9a" stroke-opacity="0.76" stroke-width="1.1"/>
<circle cx="300.5" cy="225.4" r="2.9" fill="#6a2c9a" fill-opacity="0.76" stroke="#6a2c9a" stroke-opacity="0.76" stroke-width="1.1"/>
<circle cx="301.2" cy="228.3" r="2.9" fill="#6a2c9a" fill-opacity="0.76" stroke="#6a2c9a" stroke-opacity="0.76" stroke-width="1.1"/>
<circle cx="307.3" cy="231.9" r="2.9" fill="#6a2c9a" fill-opacity="0.76" stroke="#6a2c9a" stroke-opacity="0.76" stroke-width="1.1"/>
<circle cx="308.7" cy="234.0" r="2.9" fill="#6a2c9a" fill-opacity="0.76" stroke="#6a2c9a" stroke-opacity="0.76" stroke-width="1.1"/>
<circle cx="295.1" cy="232.6" r="2.9" fill="#7d91cc" fill-opacity="0.76" stroke="#7d91cc" stroke-opacity="0.76" stroke-width="1.1"/>
<circle cx="303.7" cy="235.4" r="2.9" fill="#7d91cc" fill-opacity="0.76" stroke="#7d91cc" stroke-opacity="0.76" stroke-width="1.1"/>
<circle cx="299.4" cy="231.5" r="2.9" fill="#f2683a" fill-opacity="0.76" stroke="#f2683a" stroke-opacity="0.76" stroke-width="1.1"/>
<circle cx="297.3" cy="233.6" r="2.9" fill="#f2683a" fill-opacity="0.76" stroke="#f2683a" stroke-opacity="0.76" stroke-width="1.1"/>
<circle cx="304.4" cy="238.3" r="2.9" fill="#6a2c9a" fill-opacity="0.76" stroke="#6a2c9a" stroke-opacity="0.76" stroke-width="1.1"/>
<circle cx="293.7" cy="236.9" r="2.9" fill="#6a2c9a" fill-opacity="0.76" stroke="#6a2c9a" stroke-opacity="0.76" stroke-width="1.1"/>
<circle cx="295.5" cy="238.0" r="2.9" fill="#7d91cc" fill-opacity="0.76" stroke="#7d91cc" stroke-opacity="0.76" stroke-width="1.1"/>
<circle cx="298.5" cy="238.0" r="2.9" fill="#7d91cc" fill-opacity="0.76" stroke="#7d91cc" stroke-opacity="0.76" stroke-width="1.1"/>
<circle cx="301.5" cy="238.0" r="2.9" fill="#7d91cc" fill-opacity="0.76" stroke="#7d91cc" stroke-opacity="0.76" stroke-width="1.1"/>
<circle cx="304.5" cy="238.0" r="2.9" fill="#7d91cc" fill-opacity="0.76" stroke="#7d91cc" stroke-opacity="0.76" stroke-width="1.1"/>
<circle cx="307.5" cy="238.0" r="2.9" fill="#7d91cc" fill-opacity="0.76" stroke="#7d91cc" stroke-opacity="0.76" stroke-width="1.1"/>
<circle cx="297.0" cy="240.6" r="2.9" fill="#7d91cc" fill-opacity="0.76" stroke="#7d91cc" stroke-opacity="0.76" stroke-width="1.1"/>
<circle cx="300.0" cy="240.6" r="2.9" fill="#7d91cc" fill-opacity="0.76" stroke="#7d91cc" stroke-opacity="0.76" stroke-width="1.1"/>
<circle cx="303.0" cy="240.6" r="2.9" fill="#7d91cc" fill-opacity="0.76" stroke="#7d91cc" stroke-opacity="0.76" stroke-width="1.1"/>
<circle cx="306.0" cy="240.6" r="2.9" fill="#7d91cc" fill-opacity="0.76" stroke="#7d91cc" stroke-opacity="0.76" stroke-width="1.1"/>
<circle cx="295.5" cy="243.2" r="2.9" fill="#7d91cc" fill-opacity="0.76" stroke="#7d91cc" stroke-opacity="0.76" stroke-width="1.1"/>
<circle cx="298.5" cy="243.2" r="2.9" fill="#7d91cc" fill-opacity="0.76" stroke="#7d91cc" stroke-opacity="0.76" stroke-width="1.1"/>
<circle cx="301.5" cy="243.2" r="2.9" fill="#7d91cc" fill-opacity="0.76" stroke="#7d91cc" stroke-opacity="0.76" stroke-width="1.1"/>
<circle cx="304.5" cy="243.2" r="2.9" fill="#7d91cc" fill-opacity="0.76" stroke="#7d91cc" stroke-opacity="0.76" stroke-width="1.1"/>
<circle cx="307.5" cy="243.2" r="2.9" fill="#7d91cc" fill-opacity="0.76" stroke="#7d91cc" stroke-opacity="0.76" stroke-width="1.1"/>
<circle cx="297.0" cy="245.8" r="2.9" fill="#7d91cc" fill-opacity="0.76" stroke="#7d91cc" stroke-opacity="0.76" stroke-width="1.1"/>
<circle cx="300.0" cy="245.8" r="2.9" fill="#7d91cc" fill-opacity="0.76" stroke="#7d91cc" stroke-opacity="0.76" stroke-width="1.1"/>
<circle cx="303.0" cy="245.8" r="2.9" fill="#7d91cc" fill-opacity="0.76" stroke="#7d91cc" stroke-opacity="0.76" stroke-width="1.1"/>
<circle cx="306.0" cy="245.8" r="2.9" fill="#7d91cc" fill-opacity="0.76" stroke="#7d91cc" stroke-opacity="0.76" stroke-width="1.1"/>
<circle cx="295.5" cy="248.4" r="2.9" fill="#7d91cc" fill-opacity="0.76" stroke="#7d91cc" stroke-opacity="0.76" stroke-width="1.1"/>
<circle cx="298.5" cy="248.4" r="2.9" fill="#7d91cc" fill-opacity="0.76" stroke="#7d91cc" stroke-opacity="0.76" stroke-width="1.1"/>
<circle cx="301.5" cy="248.4" r="2.9" fill="#7d91cc" fill-opacity="0.76" stroke="#7d91cc" stroke-opacity="0.76" stroke-width="1.1"/>
<circle cx="304.5" cy="248.4" r="2.9" fill="#7d91cc" fill-opacity="0.76" stroke="#7d91cc" stroke-opacity="0.76" stroke-width="1.1"/>
<circle cx="307.5" cy="248.4" r="2.9" fill="#7d91cc" fill-opacity="0.76" stroke="#7d91cc" stroke-opacity="0.76" stroke-width="1.1"/>
<circle cx="297.0" cy="251.1" r="2.9" fill="#7d91cc" fill-opacity="0.76" stroke="#7d91cc" stroke-opacity="0.76" stroke-width="1.1"/>
<circle cx="300.0" cy="251.1" r="2.9" fill="#7d91cc" fill-opacity="0.76" stroke="#7d91cc" stroke-opacity="0.76" stroke-width="1.1"/>
<circle cx="303.0" cy="251.1" r="2.9" fill="#7d91cc" fill-opacity="0.76" stroke="#7d91cc" stroke-opacity="0.76" stroke-width="1.1"/>
<circle cx="306.0" cy="251.1" r="2.9" fill="#7d91cc" fill-opacity="0.76" stroke="#7d91cc" stroke-opacity="0.76" stroke-width="1.1"/>
<circle cx="295.5" cy="253.7" r="2.9" fill="#7d91cc" fill-opacity="0.76" stroke="#7d91cc" stroke-opacity="0.76" stroke-width="1.1"/>
<circle cx="298.5" cy="253.7" r="2.9" fill="#7d91cc" fill-opacity="0.76" stroke="#7d91cc" stroke-opacity="0.76" stroke-width="1.1"/>
<circle cx="301.5" cy="253.7" r="2.9" fill="#7d91cc" fill-opacity="0.76" stroke="#7d91cc" stroke-opacity="0.76" stroke-width="1.1"/>
<circle cx="304.5" cy="253.7" r="2.9" fill="#7d91cc" fill-opacity="0.76" stroke="#7d91cc" stroke-opacity="0.76" stroke-width="1.1"/>
<circle cx="307.5" cy="253.7" r="2.9" fill="#7d91cc" fill-opacity="0.76" stroke="#7d91cc" stroke-opacity="0.76" stroke-width="1.1"/>
<circle cx="305.8" cy="239.0" r="2.9" fill="#6a2c9a" fill-opacity="0.76" stroke="#6a2c9a" stroke-opacity="0.76" stroke-width="1.1"/>
<circle cx="309.8" cy="238.0" r="2.9" fill="#6a2c9a" fill-opacity="0.76" stroke="#6a2c9a" stroke-opacity="0.76" stroke-width="1.1"/>
<circle cx="294.9" cy="246.4" r="2.9" fill="#e06cb6" fill-opacity="0.76" stroke="#e06cb6" stroke-opacity="0.76" stroke-width="1.1"/>
<circle cx="294.4" cy="248.9" r="2.9" fill="#e06cb6" fill-opacity="0.76" stroke="#e06cb6" stroke-opacity="0.76" stroke-width="1.1"/>
<circle cx="295.8" cy="256.0" r="2.9" fill="#22983f" fill-opacity="0.76" stroke="#22983f" stroke-opacity="0.76" stroke-width="1.1"/>
<circle cx="295.5" cy="260.5" r="2.9" fill="#22983f" fill-opacity="0.76" stroke="#22983f" stroke-opacity="0.76" stroke-width="1.1"/>
<circle cx="297.5" cy="265.0" r="2.9" fill="#22983f" fill-opacity="0.76" stroke="#22983f" stroke-opacity="0.76" stroke-width="1.1"/>
<circle cx="301.5" cy="266.0" r="2.9" fill="#22983f" fill-opacity="0.76" stroke="#22983f" stroke-opacity="0.76" stroke-width="1.1"/>
<circle cx="304.0" cy="263.0" r="2.9" fill="#22983f" fill-opacity="0.76" stroke="#22983f" stroke-opacity="0.76" stroke-width="1.1"/>
<circle cx="308.8" cy="256.0" r="2.9" fill="#22983f" fill-opacity="0.76" stroke="#22983f" stroke-opacity="0.76" stroke-width="1.1"/>
<circle cx="308.5" cy="261.5" r="2.9" fill="#22983f" fill-opacity="0.76" stroke="#22983f" stroke-opacity="0.76" stroke-width="1.1"/>
<circle cx="305.5" cy="266.0" r="2.9" fill="#22983f" fill-opacity="0.76" stroke="#22983f" stroke-opacity="0.76" stroke-width="1.1"/>
<circle cx="300.5" cy="257.0" r="2.9" fill="#22983f" fill-opacity="0.76" stroke="#22983f" stroke-opacity="0.76" stroke-width="1.1"/>
<circle cx="298.9" cy="261.2" r="2.9" fill="#e06cb6" fill-opacity="0.76" stroke="#e06cb6" stroke-opacity="0.76" stroke-width="1.1"/>
<circle cx="305.8" cy="257.8" r="2.9" fill="#e06cb6" fill-opacity="0.76" stroke="#e06cb6" stroke-opacity="0.76" stroke-width="1.1"/>
<circle cx="308.3" cy="264.7" r="2.9" fill="#7d91cc" fill-opacity="0.76" stroke="#7d91cc" stroke-opacity="0.76" stroke-width="1.1"/>
<circle cx="374.6" cy="90.0" r="2.9" fill="#f2683a" fill-opacity="0.76" stroke="#f2683a" stroke-opacity="0.76" stroke-width="1.1"/>
<circle cx="366.5" cy="170.4" r="2.9" fill="#f2683a" fill-opacity="0.76" stroke="#f2683a" stroke-opacity="0.76" stroke-width="1.1"/>
<circle cx="368.7" cy="174.3" r="2.9" fill="#f2683a" fill-opacity="0.76" stroke="#f2683a" stroke-opacity="0.76" stroke-width="1.1"/>
<circle cx="374.2" cy="193.5" r="2.9" fill="#f2683a" fill-opacity="0.76" stroke="#f2683a" stroke-opacity="0.76" stroke-width="1.1"/>
<circle cx="368.7" cy="193.5" r="2.9" fill="#6a2c9a" fill-opacity="0.76" stroke="#6a2c9a" stroke-opacity="0.76" stroke-width="1.1"/>
<circle cx="368.0" cy="198.8" r="2.9" fill="#6a2c9a" fill-opacity="0.76" stroke="#6a2c9a" stroke-opacity="0.76" stroke-width="1.1"/>
<circle cx="374.8" cy="212.3" r="2.9" fill="#f2683a" fill-opacity="0.76" stroke="#f2683a" stroke-opacity="0.76" stroke-width="1.1"/>
<circle cx="364.7" cy="206.7" r="2.9" fill="#7d91cc" fill-opacity="0.76" stroke="#7d91cc" stroke-opacity="0.76" stroke-width="1.1"/>
<circle cx="368.4" cy="205.4" r="2.9" fill="#7d91cc" fill-opacity="0.76" stroke="#7d91cc" stroke-opacity="0.76" stroke-width="1.1"/>
<circle cx="371.7" cy="206.3" r="2.9" fill="#7d91cc" fill-opacity="0.76" stroke="#7d91cc" stroke-opacity="0.76" stroke-width="1.1"/>
<circle cx="372.5" cy="209.6" r="2.9" fill="#7d91cc" fill-opacity="0.76" stroke="#7d91cc" stroke-opacity="0.76" stroke-width="1.1"/>
<circle cx="363.9" cy="208.7" r="2.9" fill="#7d91cc" fill-opacity="0.76" stroke="#7d91cc" stroke-opacity="0.76" stroke-width="1.1"/>
<circle cx="365.5" cy="211.6" r="2.9" fill="#6a2c9a" fill-opacity="0.76" stroke="#6a2c9a" stroke-opacity="0.76" stroke-width="1.1"/>
<circle cx="367.0" cy="212.6" r="2.9" fill="#6a2c9a" fill-opacity="0.76" stroke="#6a2c9a" stroke-opacity="0.76" stroke-width="1.1"/>
<circle cx="369.5" cy="213.8" r="2.9" fill="#6a2c9a" fill-opacity="0.76" stroke="#6a2c9a" stroke-opacity="0.76" stroke-width="1.1"/>
<circle cx="364.2" cy="214.5" r="2.9" fill="#6a2c9a" fill-opacity="0.76" stroke="#6a2c9a" stroke-opacity="0.76" stroke-width="1.1"/>
<circle cx="369.4" cy="216.6" r="2.9" fill="#6a2c9a" fill-opacity="0.76" stroke="#6a2c9a" stroke-opacity="0.76" stroke-width="1.1"/>
<circle cx="364.3" cy="218.2" r="2.9" fill="#7d91cc" fill-opacity="0.76" stroke="#7d91cc" stroke-opacity="0.76" stroke-width="1.1"/>
<circle cx="367.2" cy="220.2" r="2.9" fill="#7d91cc" fill-opacity="0.76" stroke="#7d91cc" stroke-opacity="0.76" stroke-width="1.1"/>
<circle cx="370.0" cy="219.2" r="2.9" fill="#7d91cc" fill-opacity="0.76" stroke="#7d91cc" stroke-opacity="0.76" stroke-width="1.1"/>
<circle cx="372.9" cy="221.6" r="2.9" fill="#f2683a" fill-opacity="0.76" stroke="#f2683a" stroke-opacity="0.76" stroke-width="1.1"/>
<circle cx="364.7" cy="225.3" r="2.9" fill="#f2683a" fill-opacity="0.76" stroke="#f2683a" stroke-opacity="0.76" stroke-width="1.1"/>
<circle cx="361.3" cy="235.7" r="2.9" fill="#e06cb6" fill-opacity="0.76" stroke="#e06cb6" stroke-opacity="0.76" stroke-width="1.1"/>
<circle cx="369.8" cy="250.3" r="2.9" fill="#e06cb6" fill-opacity="0.76" stroke="#e06cb6" stroke-opacity="0.76" stroke-width="1.1"/>
<circle cx="367.1" cy="236.5" r="2.9" fill="#22983f" fill-opacity="0.76" stroke="#22983f" stroke-opacity="0.76" stroke-width="1.1"/>
<circle cx="363.6" cy="238.8" r="2.9" fill="#22983f" fill-opacity="0.76" stroke="#22983f" stroke-opacity="0.76" stroke-width="1.1"/>
<circle cx="365.5" cy="241.1" r="2.9" fill="#22983f" fill-opacity="0.76" stroke="#22983f" stroke-opacity="0.76" stroke-width="1.1"/>
<circle cx="362.8" cy="244.2" r="2.9" fill="#22983f" fill-opacity="0.76" stroke="#22983f" stroke-opacity="0.76" stroke-width="1.1"/>
<circle cx="367.8" cy="243.0" r="2.9" fill="#22983f" fill-opacity="0.76" stroke="#22983f" stroke-opacity="0.76" stroke-width="1.1"/>
<circle cx="372.1" cy="244.5" r="2.9" fill="#22983f" fill-opacity="0.76" stroke="#22983f" stroke-opacity="0.76" stroke-width="1.1"/>
<circle cx="362.5" cy="247.2" r="2.9" fill="#22983f" fill-opacity="0.76" stroke="#22983f" stroke-opacity="0.76" stroke-width="1.1"/>
<circle cx="368.2" cy="248.0" r="2.9" fill="#22983f" fill-opacity="0.76" stroke="#22983f" stroke-opacity="0.76" stroke-width="1.1"/>
<circle cx="364.8" cy="246.1" r="2.9" fill="#22983f" fill-opacity="0.76" stroke="#22983f" stroke-opacity="0.76" stroke-width="1.1"/>
<line x1="62.5" y1="258.9" x2="389.0" y2="180.1" stroke="#ef6a3c" stroke-width="1.4"/>
<line x1="62.5" y1="284.8" x2="389.0" y2="205.9" stroke="#6e2e9c" stroke-width="1.4"/>
<line x1="62.5" y1="300.3" x2="389.0" y2="220.6" stroke="#6a7fc0" stroke-width="1.4"/>
<line x1="62.5" y1="303.9" x2="389.0" y2="224.7" stroke="#dc5aae" stroke-width="1.4"/>
<line x1="62.5" y1="312.5" x2="389.0" y2="233.6" stroke="#1e8a36" stroke-width="1.4"/>
<rect x="62.4" y="8.25" width="326.8" height="309.55" fill="none" stroke="#b0b0b0" stroke-width="1.15"/>
<line x1="83.50" y1="317.7" x2="83.50" y2="321.8" stroke="#b3b3b3" stroke-width="1"/>
<line x1="154.00" y1="317.7" x2="154.00" y2="321.8" stroke="#b3b3b3" stroke-width="1"/>
<line x1="224.50" y1="317.7" x2="224.50" y2="321.8" stroke="#b3b3b3" stroke-width="1"/>
<line x1="295.00" y1="317.7" x2="295.00" y2="321.8" stroke="#b3b3b3" stroke-width="1"/>
<line x1="365.50" y1="317.7" x2="365.50" y2="321.8" stroke="#b3b3b3" stroke-width="1"/>
<line x1="58.1" y1="306.30" x2="62.5" y2="306.30" stroke="#b3b3b3" stroke-width="1"/>
<line x1="58.1" y1="220.17" x2="62.5" y2="220.17" stroke="#b3b3b3" stroke-width="1"/>
<line x1="58.1" y1="134.03" x2="62.5" y2="134.03" stroke="#b3b3b3" stroke-width="1"/>
<line x1="58.1" y1="47.90" x2="62.5" y2="47.90" stroke="#b3b3b3" stroke-width="1"/>
<circle cx="425.8" cy="124.6" r="2.9" fill="#22983f" fill-opacity="0.76" stroke="#22983f" stroke-opacity="0.76" stroke-width="1.1"/>
<circle cx="425.8" cy="149.4" r="2.9" fill="#e06cb6" fill-opacity="0.76" stroke="#e06cb6" stroke-opacity="0.76" stroke-width="1.1"/>
<circle cx="425.8" cy="174.2" r="2.9" fill="#f2683a" fill-opacity="0.76" stroke="#f2683a" stroke-opacity="0.76" stroke-width="1.1"/>
<circle cx="425.8" cy="199.0" r="2.9" fill="#7d91cc" fill-opacity="0.76" stroke="#7d91cc" stroke-opacity="0.76" stroke-width="1.1"/>
<circle cx="425.8" cy="223.8" r="2.9" fill="#6a2c9a" fill-opacity="0.76" stroke="#6a2c9a" stroke-opacity="0.76" stroke-width="1.1"/>
<g opacity="0.999">
<text x="83.50" y="334.8" text-anchor="middle" class="ax">0</text>
<text x="154.00" y="334.8" text-anchor="middle" class="ax">20</text>
<text x="224.50" y="334.8" text-anchor="middle" class="ax">40</text>
<text x="295.00" y="334.8" text-anchor="middle" class="ax">60</text>
<text x="365.50" y="334.8" text-anchor="middle" class="ax">80</text>
<text x="54.6" y="310.90" text-anchor="end" class="ax">0</text>
<text x="54.6" y="224.77" text-anchor="end" class="ax">2000</text>
<text x="54.6" y="138.63" text-anchor="end" class="ax">4000</text>
<text x="54.6" y="52.50" text-anchor="end" class="ax">6000</text>
<text x="225.75" y="352.8" text-anchor="middle" class="tt">Age</text>
<text transform="translate(19.2,162.9) rotate(-90)" text-anchor="middle" class="tt" style="font-size:15.85px">Mutations / cell</text>
<text x="413.2" y="102.8" class="tt">Cell type</text>
<text x="446.4" y="129.4" class="lg">HSC</text>
<text x="446.4" y="154.2" class="lg">B Naive</text>
<text x="446.4" y="179.0" class="lg">B Memory</text>
<text x="446.4" y="203.8" class="lg">T Naive</text>
<text x="446.4" y="228.6" class="lg">T Memory</text>
</g>
</svg>
</body></html>
